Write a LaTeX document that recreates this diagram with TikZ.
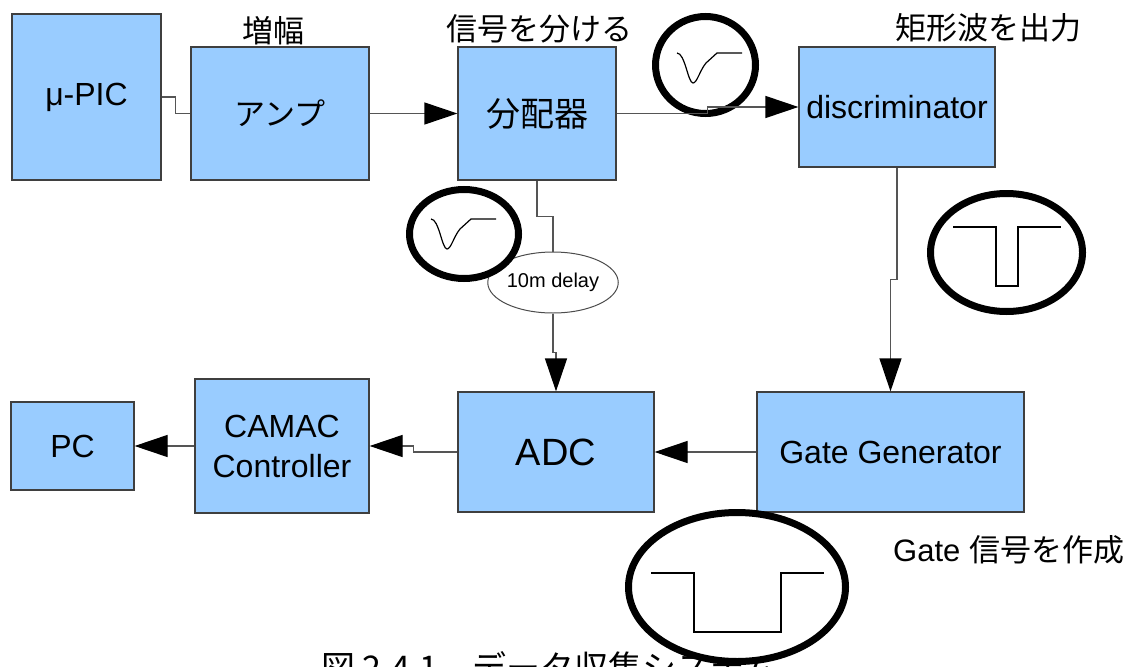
\documentclass[tikz,border=0pt]{standalone}
\usepackage{fontspec}
\setmainfont{Liberation Sans}
\newfontfamily\jpfont{Noto Sans CJK JP}
\usetikzlibrary{arrows.meta,shapes.geometric}
\definecolor{boxblue}{HTML}{99CCFF}
\definecolor{boxline}{HTML}{3F3F3F}
\definecolor{wiregray}{HTML}{555555}
\begin{document}
\begin{tikzpicture}[x=1pt,y=-1pt,
	blk/.style={draw=boxline,fill=boxblue,line width=1.2pt,inner sep=0pt,align=center,font=\fontsize{32}{40}\selectfont},
	wire/.style={draw=wiregray,line width=1.2pt},
	arr/.style={wire,-{Triangle[length=33pt,width=22pt,color=black]}},
	ring/.style={line width=7pt,fill=white},
	wave/.style={line width=1.2pt},
	lbl/.style={inner sep=0pt,font=\jpfont\fontsize{31}{36}\selectfont}]
	\useasboundingbox (0,0) rectangle (1139,666);
	% caption, cut by the page edge
	\node[anchor=base west,inner sep=0pt,font=\jpfont\fontsize{34}{40}\selectfont] (cap) at (321,680) {図 2.4.1　データ収集システム};
	% top row
	\node[blk,minimum width=149,minimum height=166] (mupic) at (86.5,97) {μ-PIC};
	\node[blk,minimum width=178,minimum height=133,font=\jpfont\fontsize{31}{36}\selectfont] (amp) at (280,113.5) {アンプ};
	\node[blk,minimum width=158,minimum height=133,font=\jpfont\fontsize{34}{40}\selectfont] (split) at (537,113.5) {分配器};
	\node[blk,minimum width=196,minimum height=120] (disc) at (897,107) {discriminator};
	% bottom row
	\node[blk,minimum width=267,minimum height=120] (gate) at (890.5,452) {Gate Generator};
	\node[blk,minimum width=196,minimum height=120,font=\fontsize{38}{44}\selectfont] (adc) at (556,452) {ADC};
	\node[blk,minimum width=174,minimum height=134] (camac) at (282,446) {CAMAC\\Controller};
	\node[blk,minimum width=123,minimum height=88] (pc) at (72.5,446) {PC};
	% delay cable
	\node[ellipse,draw=black!70,fill=white,line width=1pt,minimum width=108,minimum height=61,inner sep=0pt,font=\fontsize{20}{24}\selectfont] (delay) at (553,282.5) {10m delay};
	% labels
	\node[lbl] (lamp) at (273,31) {増幅};
	\node[lbl] (lsplit) at (539,29) {信号を分ける};
	\node[lbl] (ldisc) at (988,28) {矩形波を出力};
	\node[lbl,anchor=base west] (lgate) at (893,561) {\rmfamily Gate {\jpfont 信号を作成}};
	% signal rings
	\draw[ring] (705.5,65) ellipse (50pt and 48.5pt);
	\draw[ring] (464,234) ellipse (54.5pt and 44.5pt);
	\draw[ring] (1006.5,252.5) ellipse (76pt and 59pt);
	\draw[ring] (737,587) ellipse (108.5pt and 74.5pt);
	% pulse shapes
	\draw[wave,shift={(677,53)}] (0,0) .. controls (8,0) and (11,30) .. (16,30) .. controls (20,30) and (23,17) .. (29,10) -- (40,0) -- (65,0);
	\draw[wave,shift={(431,219)}] (0,0) .. controls (8,0) and (11,30) .. (16,30) .. controls (20,30) and (23,17) .. (29,10) -- (40,0) -- (65,0);
	\draw[wave] (953,227) -| (996,286) -| (1018,227) -- (1061,227);
	\draw[wave] (651,573) -| (694,632) -| (781,573) -- (824,573);
	% connectors
	\draw[wire] (mupic.east) -- ++(14,0) |- (amp.west);
	\draw[arr] (amp.east) -- (split.west);
	\draw[arr] (split.east) -- ++(91,0) |- (disc.west);
	\draw[wire] (split.south) -- ++(0,36) -| (delay.north);
	\draw[arr] (delay.south) -- ++(0,39) -| (adc.north);
	\draw[arr] (disc.south) -- ++(0,112) -| (gate.north);
	\draw[arr] (gate.west) -- (adc.east);
	\draw[arr] (adc.west) -- ++(-44,0) |- (camac.east);
	\draw[arr] (camac.west) -- (pc.east);
\end{tikzpicture}
\end{document}
